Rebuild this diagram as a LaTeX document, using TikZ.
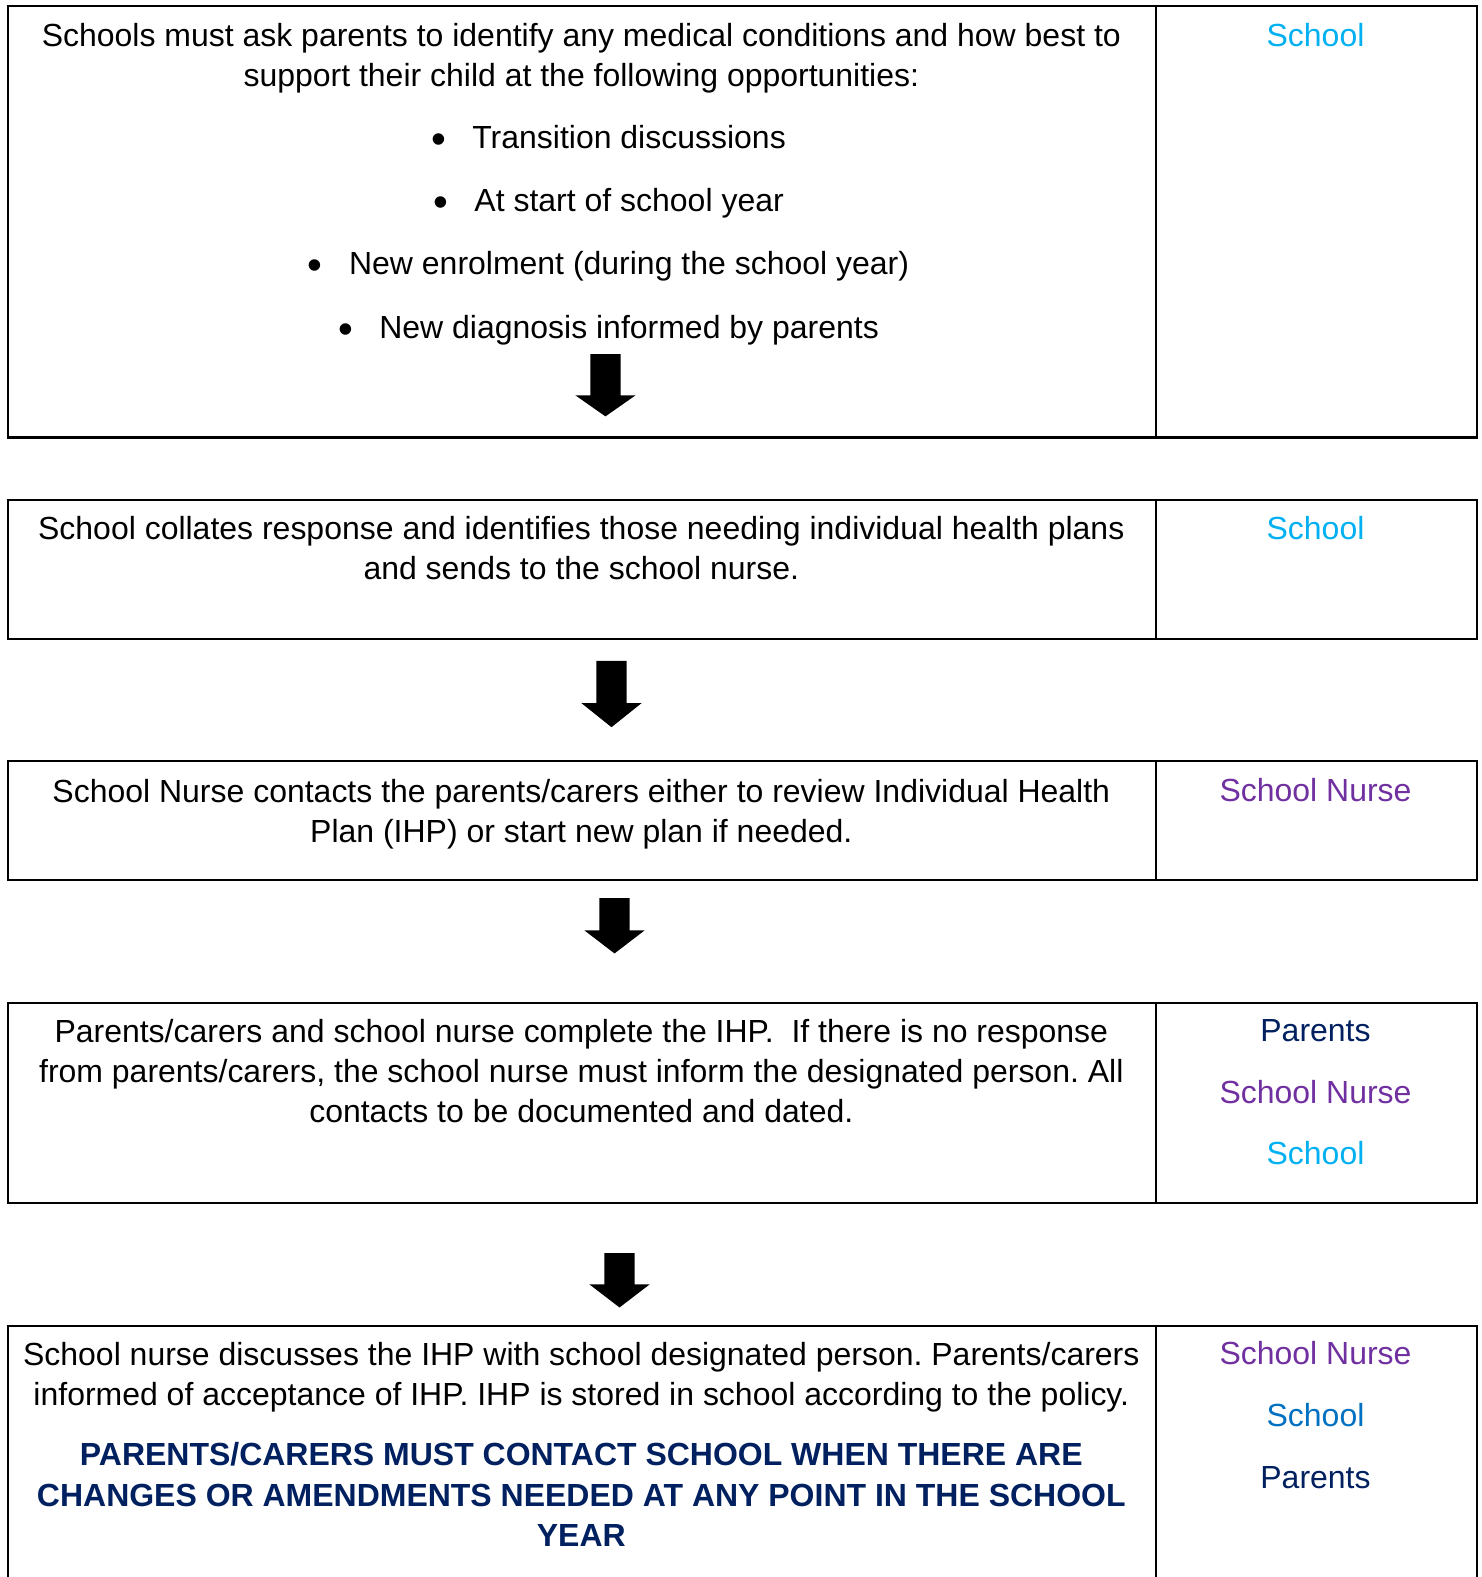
\documentclass[tikz,border=0pt]{standalone}
\usepackage{fontspec}
\setmainfont{Liberation Sans}
\usepackage{xcolor}
\usepackage{tikz}
\usetikzlibrary{positioning}
\definecolor{ihpcyan}{RGB}{0,176,240}
\definecolor{ihpblue}{RGB}{0,112,192}
\definecolor{ihppurple}{RGB}{112,48,160}
\definecolor{ihpnavy}{RGB}{0,32,96}
\newcommand{\ihpfont}{\fontsize{15.9}{20}\selectfont\frenchspacing}
\newcommand{\ihpbullet}{\makebox[20.5pt][l]{\raisebox{-2.5pt}{\fontsize{21}{20}\selectfont\textbullet}}}
\tikzset{
  cell/.style={draw=black, line width=1pt},
  para/.style={align=center, inner sep=0pt, anchor=north, font=\ihpfont},
  item/.style={inner sep=0pt, anchor=base, font=\ihpfont},
  role/.style={inner sep=0pt, anchor=base, font=\ihpfont},
  warn/.style={align=center, inner sep=0pt, anchor=north, text=ihpnavy, font=\ihpfont\bfseries},
  bigarrow/.style={fill=black}
}
\newcommand{\downblock}[4]{%
  \fill[bigarrow] (#1-15,#2) -- (#1+15,#2) -- (#1+15,#3) -- (#1+30,#3) -- (#1,#4) -- (#1-30,#3) -- (#1-15,#3) -- cycle;}

\begin{document}
\begin{tikzpicture}[x=0.5pt, y=-0.5pt]
\useasboundingbox (0,0) rectangle (1473,1568);

\draw[cell] (8,6) rectangle (1469,435);
\draw[cell] (1149,6) -- (1149,435);
\node[para] (ask) at (578,23) {Schools must ask parents to identify any medical conditions and how best to\\support their child at the following opportunities:};
\node[item] (transition) at (605,148) {\ihpbullet Transition discussions};
\node[item] (startyear) at (605,210) {\ihpbullet At start of school year};
\node[item] (enrol) at (605,273) {\ihpbullet New enrolment (during the school year)};
\node[item] (diagnosis) at (605,337) {\ihpbullet New diagnosis informed by parents};
\node[role, text=ihpcyan] (askwho) at (1308,46) {School};
\downblock{602}{352}{393}{414}

\draw[cell] (8,497) rectangle (1469,635);
\draw[cell] (1149,497) -- (1149,635);
\node[para] (collate) at (578,513) {School collates response and identifies those needing individual health plans\\and sends to the school nurse.};
\node[role, text=ihpcyan] (collatewho) at (1308,536) {School};

\downblock{608}{657}{699}{723}

\draw[cell] (8,757) rectangle (1469,875);
\draw[cell] (1149,757) -- (1149,875);
\node[para] (contact) at (578,774) {School Nurse contacts the parents/carers either to review Individual Health\\Plan (IHP) or start new plan if needed.};
\node[role, text=ihppurple] (contactwho) at (1308,797) {School Nurse};

\downblock{611}{893}{925}{948}

\draw[cell] (8,997) rectangle (1469,1196);
\draw[cell] (1149,997) -- (1149,1196);
\node[para] (complete) at (578,1013) {Parents/carers and school nurse complete the IHP.\ \ If there is no response\\from parents/carers, the school nurse must inform the designated person. All\\contacts to be documented and dated.};
\node[role, text=ihpnavy] (completewho1) at (1308,1036) {Parents};
\node[role, text=ihppurple] (completewho2) at (1308,1097) {School Nurse};
\node[role, text=ihpcyan] (completewho3) at (1308,1158) {School};

\downblock{616}{1246}{1277}{1300}

\draw[cell] (8,1568) -- (8,1318) -- (1469,1318) -- (1469,1568);
\draw[cell] (1149,1318) -- (1149,1568);
\node[para] (discuss) at (578,1334) {School nurse discusses the IHP with school designated person. Parents/carers\\informed of acceptance of IHP. IHP is stored in school according to the policy.};
\node[warn] (changes) at (578,1434) {PARENTS/CARERS MUST CONTACT SCHOOL WHEN THERE ARE\\CHANGES OR AMENDMENTS NEEDED AT ANY POINT IN THE SCHOOL\\YEAR};
\node[role, text=ihppurple] (discusswho1) at (1308,1357) {School Nurse};
\node[role, text=ihpblue] (discusswho2) at (1308,1418) {School};
\node[role, text=ihpnavy] (discusswho3) at (1308,1480) {Parents};
\end{tikzpicture}
\end{document}
